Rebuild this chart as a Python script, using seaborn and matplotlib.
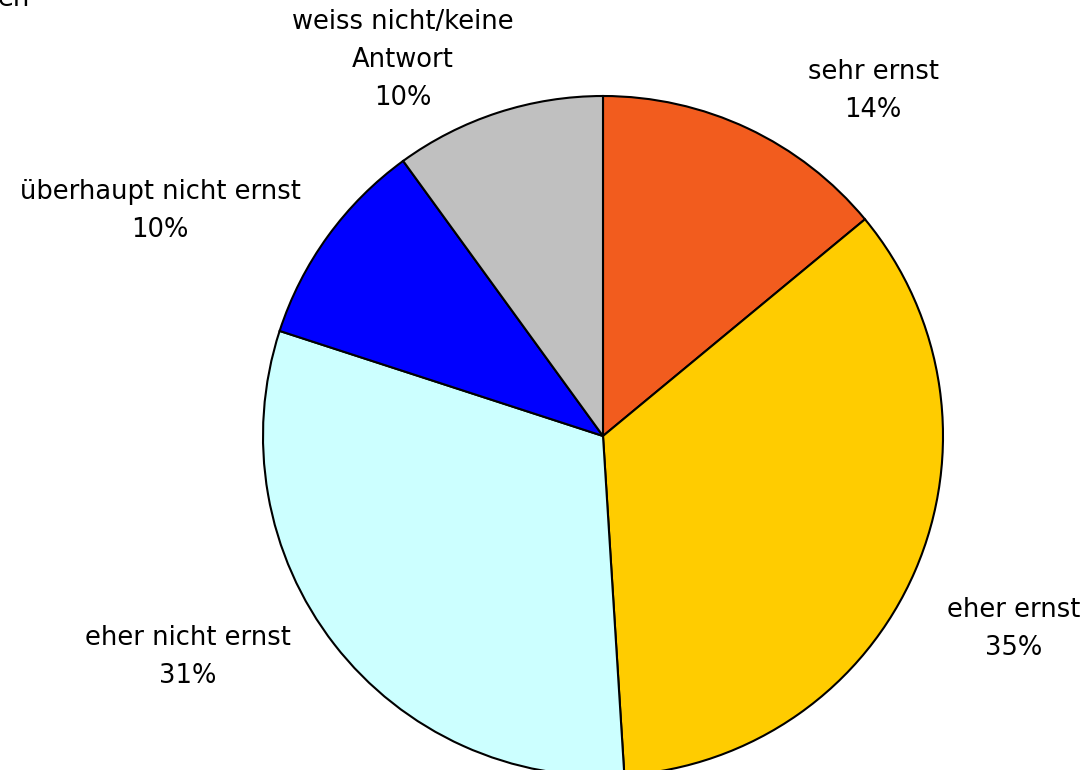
import matplotlib
matplotlib.use("Agg")
import matplotlib.pyplot as plt
import seaborn as sns

categories = ["sehr ernst", "eher ernst", "eher nicht ernst", "überhaupt nicht ernst", "weiss nicht/keine\nAntwort"]
values = [14, 35, 31, 10, 10]
colors = ["#F25C1E", "#FFCC00", "#CCFFFF", "#0000FF", "#C0C0C0"]

sns.set_theme(style="white")
plt.rcParams['font.family'] = ['DejaVu Sans']

W, H = 1089, 770
fig = plt.figure(figsize=(W / 100, H / 100), dpi=100)
ax = fig.add_axes([0, 0, 1, 1])

cx, cy, r = 603, H - 436, 340
ax.pie(values, colors=colors, startangle=90, counterclock=False,
       center=(cx, cy), radius=r, frame=True,
       wedgeprops=dict(edgecolor="black", linewidth=1.5))
ax.set_xlim(0, W)
ax.set_ylim(0, H)
ax.set_aspect("equal")
ax.axis("off")

label_pos = [(873, 91), (1014, 629), (188, 657), (160, 211), (403, 60)]
for cat, v, (x, y) in zip(categories, values, label_pos):
    ax.text(x, H - y, f"{cat}\n{v}%", ha="center", va="center",
            fontsize=18.5, color="black", linespacing=1.62)

fig.text(30 / W, 1 - 6 / H, "en", ha="right", va="baseline", fontsize=18.5, color="black")

fig.savefig("out.png", dpi=100)
